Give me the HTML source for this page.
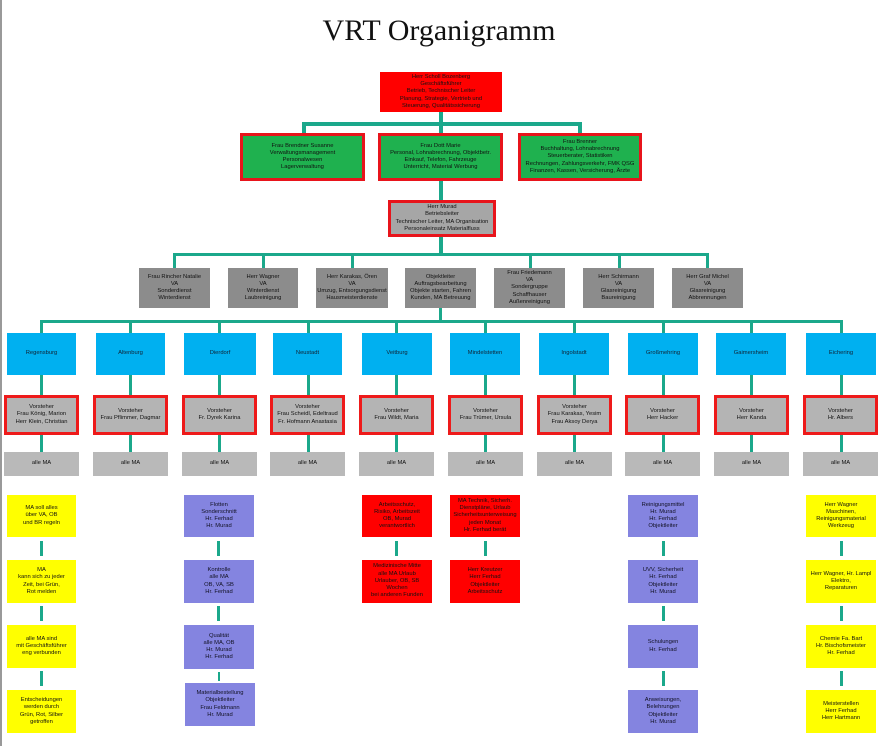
<!DOCTYPE html>
<html><head><meta charset="utf-8"><style>
html,body{margin:0;padding:0;background:#fff;}
body{width:878px;height:746px;position:relative;overflow:hidden;font-family:"Liberation Sans",sans-serif;}
.b{position:absolute;box-sizing:border-box;display:flex;align-items:center;justify-content:center;text-align:center;font-size:5.8px;line-height:1.25;color:#111;overflow:hidden;}
.r{background:#f00;}
.g{background:#1fb14f;border:3px solid #e8141b;}
.gr{background:#8c8c8c;}
.gm{background:#a6a6a6;border:3px solid #e8141b;}
.bl{background:#00b0f0;color:#123;}
.vs{background:#b4b4b4;border:3px solid #ee1a1a;}
.am{background:#b9b9b9;}
.y{background:#ffff00;}
.p{background:#8484e0;color:#112;}
.l{position:absolute;background:#1ba88b;}
</style></head><body>
<div style="position:absolute;left:0;top:0;width:2px;height:746px;background:#999"></div>
<div style="position:absolute;left:0;top:14px;width:878px;text-align:center;font-family:'Liberation Serif',serif;font-size:30px;color:#111;">VRT Organigramm</div>

<!-- top -->
<div class="b r" style="left:380px;top:72px;width:122px;height:40px;">Herr Scholl Bozenberg<br>Geschäftsführer<br>Betrieb, Technischer Leiter<br>Planung, Strategie, Vertrieb und<br>Steuerung, Qualitätssicherung</div>
<div class="l" style="left:439px;top:112px;width:4px;height:22px"></div>
<div class="l" style="left:302px;top:122px;width:280px;height:4px"></div>
<div class="l" style="left:302px;top:122px;width:4px;height:12px"></div>
<div class="l" style="left:578px;top:122px;width:4px;height:12px"></div>

<div class="b g" style="left:240px;top:133px;width:125px;height:48px;">Frau Brendner Susanne<br>Verwaltungsmanagement<br>Personalwesen<br>Lagerverwaltung</div>
<div class="b g" style="left:378px;top:133px;width:125px;height:48px;">Frau Dott Marie<br>Personal, Lohnabrechnung, Objektbetr.<br>Einkauf, Telefon, Fahrzeuge<br>Unterricht, Material Werbung</div>
<div class="b g" style="left:518px;top:133px;width:124px;height:48px;">Frau Brenner<br>Buchhaltung, Lohnabrechnung<br>Steuerberater, Statistiken<br>Rechnungen, Zahlungsverkehr, FMK QSG<br>Finanzen, Kassen, Versicherung, Ärzte</div>
<div class="l" style="left:439px;top:181px;width:4px;height:20px"></div>
<div class="b gm" style="left:388px;top:200px;width:108px;height:37px;">Herr Murad<br>Betriebsleiter<br>Technischer Leiter, MA Organisation<br>Personaleinsatz Materialfluss</div>
<div class="l" style="left:439px;top:237px;width:4px;height:18px"></div>

<!-- second line -->
<div class="l" style="left:173px;top:253px;width:536px;height:3px"></div>
<div class="l" style="left:173px;top:253px;width:3px;height:15px"></div>
<div class="l" style="left:262px;top:253px;width:3px;height:15px"></div>
<div class="l" style="left:351px;top:253px;width:3px;height:15px"></div>
<div class="l" style="left:529px;top:253px;width:3px;height:15px"></div>
<div class="l" style="left:618px;top:253px;width:3px;height:15px"></div>
<div class="l" style="left:706px;top:253px;width:3px;height:15px"></div>

<div class="b gr" style="left:139px;top:268px;width:71px;height:40px;">Frau Rincher Natalie<br>VA<br>Sonderdienst<br>Winterdienst</div>
<div class="b gr" style="left:228px;top:268px;width:70px;height:40px;">Herr Wagner<br>VA<br>Winterdienst<br>Laubreinigung</div>
<div class="b gr" style="left:316px;top:268px;width:72px;height:40px;">Herr Karakas, Ören<br>VA<br>Umzug, Entsorgungsdienst<br>Hausmeisterdienste</div>
<div class="b gr" style="left:405px;top:268px;width:71px;height:40px;">Objektleiter<br>Auftragsbearbeitung<br>Objekte starten, Fahren<br>Kunden, MA Betreuung</div>
<div class="b gr" style="left:494px;top:268px;width:71px;height:40px;">Frau Friedemann<br>VA<br>Sondergruppe<br>Schaffhauser<br>Außenreinigung</div>
<div class="b gr" style="left:583px;top:268px;width:71px;height:40px;">Herr Schirmann<br>VA<br>Glasreinigung<br>Baureinigung</div>
<div class="b gr" style="left:672px;top:268px;width:71px;height:40px;">Herr Graf Michel<br>VA<br>Glasreinigung<br>Abbrennungen</div>
<div class="l" style="left:439px;top:308px;width:3px;height:13px"></div>

<!-- third line -->
<div class="l" style="left:40px;top:320px;width:803px;height:3px"></div>

<div class="b bl" style="left:7px;top:333px;width:69px;height:42px;">Regensburg</div>
<div class="b bl" style="left:96px;top:333px;width:69px;height:42px;">Altenburg</div>
<div class="b bl" style="left:184px;top:333px;width:72px;height:42px;">Dierdorf</div>
<div class="b bl" style="left:273px;top:333px;width:69px;height:42px;">Neustadt</div>
<div class="b bl" style="left:362px;top:333px;width:70px;height:42px;">Veitburg</div>
<div class="b bl" style="left:450px;top:333px;width:70px;height:42px;">Mindelstetten</div>
<div class="b bl" style="left:539px;top:333px;width:70px;height:42px;">Ingolstadt</div>
<div class="b bl" style="left:628px;top:333px;width:70px;height:42px;">Großmehring</div>
<div class="b bl" style="left:716px;top:333px;width:70px;height:42px;">Gaimersheim</div>
<div class="b bl" style="left:806px;top:333px;width:70px;height:42px;">Eichering</div>

<div class="b vs" style="left:4px;top:395px;width:75px;height:40px;">Vorsteher<br>Frau König, Marion<br>Herr Klein, Christian</div>
<div class="b vs" style="left:93px;top:395px;width:75px;height:40px;">Vorsteher<br>Frau Pflimmer, Dagmar</div>
<div class="b vs" style="left:182px;top:395px;width:75px;height:40px;">Vorsteher<br>Fr. Dyrek Karina</div>
<div class="b vs" style="left:270px;top:395px;width:75px;height:40px;">Vorsteher<br>Frau Scheidl, Edeltraud<br>Fr. Hofmann Anastasia</div>
<div class="b vs" style="left:359px;top:395px;width:75px;height:40px;">Vorsteher<br>Frau Wildt, Maria</div>
<div class="b vs" style="left:448px;top:395px;width:75px;height:40px;">Vorsteher<br>Frau Trümer, Ursula</div>
<div class="b vs" style="left:537px;top:395px;width:75px;height:40px;">Vorsteher<br>Frau Karakas, Yesim<br>Frau Aksoy Derya</div>
<div class="b vs" style="left:625px;top:395px;width:75px;height:40px;">Vorsteher<br>Herr Hacker</div>
<div class="b vs" style="left:714px;top:395px;width:75px;height:40px;">Vorsteher<br>Herr Kanda</div>
<div class="b vs" style="left:803px;top:395px;width:75px;height:40px;">Vorsteher<br>Hr. Albers</div>

<div class="b am" style="left:4px;top:452px;width:75px;height:24px;">alle MA</div>
<div class="b am" style="left:93px;top:452px;width:75px;height:24px;">alle MA</div>
<div class="b am" style="left:182px;top:452px;width:75px;height:24px;">alle MA</div>
<div class="b am" style="left:270px;top:452px;width:75px;height:24px;">alle MA</div>
<div class="b am" style="left:359px;top:452px;width:75px;height:24px;">alle MA</div>
<div class="b am" style="left:448px;top:452px;width:75px;height:24px;">alle MA</div>
<div class="b am" style="left:537px;top:452px;width:75px;height:24px;">alle MA</div>
<div class="b am" style="left:625px;top:452px;width:75px;height:24px;">alle MA</div>
<div class="b am" style="left:714px;top:452px;width:75px;height:24px;">alle MA</div>
<div class="b am" style="left:803px;top:452px;width:75px;height:24px;">alle MA</div>

<!-- vertical connectors per column -->
<div class="l" style="left:40px;top:320px;width:3px;height:13px"></div><div class="l" style="left:40px;top:375px;width:3px;height:20px"></div><div class="l" style="left:40px;top:435px;width:3px;height:17px"></div>
<div class="l" style="left:129px;top:320px;width:3px;height:13px"></div><div class="l" style="left:129px;top:375px;width:3px;height:20px"></div><div class="l" style="left:129px;top:435px;width:3px;height:17px"></div>
<div class="l" style="left:218px;top:320px;width:3px;height:13px"></div><div class="l" style="left:218px;top:375px;width:3px;height:20px"></div><div class="l" style="left:218px;top:435px;width:3px;height:17px"></div>
<div class="l" style="left:307px;top:320px;width:3px;height:13px"></div><div class="l" style="left:307px;top:375px;width:3px;height:20px"></div><div class="l" style="left:307px;top:435px;width:3px;height:17px"></div>
<div class="l" style="left:395px;top:320px;width:3px;height:13px"></div><div class="l" style="left:395px;top:375px;width:3px;height:20px"></div><div class="l" style="left:395px;top:435px;width:3px;height:17px"></div>
<div class="l" style="left:484px;top:320px;width:3px;height:13px"></div><div class="l" style="left:484px;top:375px;width:3px;height:20px"></div><div class="l" style="left:484px;top:435px;width:3px;height:17px"></div>
<div class="l" style="left:573px;top:320px;width:3px;height:13px"></div><div class="l" style="left:573px;top:375px;width:3px;height:20px"></div><div class="l" style="left:573px;top:435px;width:3px;height:17px"></div>
<div class="l" style="left:662px;top:320px;width:3px;height:13px"></div><div class="l" style="left:662px;top:375px;width:3px;height:20px"></div><div class="l" style="left:662px;top:435px;width:3px;height:17px"></div>
<div class="l" style="left:750px;top:320px;width:3px;height:13px"></div><div class="l" style="left:750px;top:375px;width:3px;height:20px"></div><div class="l" style="left:750px;top:435px;width:3px;height:17px"></div>
<div class="l" style="left:840px;top:320px;width:3px;height:13px"></div><div class="l" style="left:840px;top:375px;width:3px;height:20px"></div><div class="l" style="left:840px;top:435px;width:3px;height:17px"></div>

<!-- column 1 yellow -->
<div class="b y" style="left:7px;top:495px;width:69px;height:42px;">MA soll alles<br>über VA, OB<br>und BR regeln</div>
<div class="l" style="left:40px;top:541px;width:3px;height:15px"></div>
<div class="b y" style="left:7px;top:560px;width:69px;height:43px;">MA<br>kann sich zu jeder<br>Zeit, bei Grün,<br>Rot melden</div>
<div class="l" style="left:40px;top:606px;width:3px;height:15px"></div>
<div class="b y" style="left:7px;top:625px;width:69px;height:43px;">alle MA sind<br>mit Geschäftsführer<br>eng verbunden</div>
<div class="l" style="left:40px;top:671px;width:3px;height:15px"></div>
<div class="b y" style="left:7px;top:690px;width:69px;height:43px;">Entscheidungen<br>werden durch<br>Grün, Rot, Silber<br>getroffen</div>

<!-- column 3 purple -->
<div class="b p" style="left:184px;top:495px;width:70px;height:42px;">Flotten<br>Sonderschnitt<br>Hr. Ferhad<br>Hr. Murad</div>
<div class="l" style="left:217px;top:541px;width:3px;height:15px"></div>
<div class="b p" style="left:184px;top:560px;width:70px;height:43px;">Kontrolle<br>alle MA<br>OB, VA, SB<br>Hr. Ferhad</div>
<div class="l" style="left:217px;top:606px;width:3px;height:15px"></div>
<div class="b p" style="left:184px;top:625px;width:70px;height:44px;">Qualität<br>alle MA, OB<br>Hr. Murad<br>Hr. Ferhad</div>
<div class="l" style="left:218px;top:672px;width:2px;height:9px"></div>
<div class="b p" style="left:185px;top:683px;width:70px;height:43px;">Materialbestellung<br>Objektleiter<br>Frau Feldmann<br>Hr. Murad</div>

<!-- column 5 red -->
<div class="b r" style="left:362px;top:495px;width:70px;height:42px;">Arbeitsschutz,<br>Risiko, Arbeitszeit<br>OB, Murad<br>verantwortlich</div>
<div class="l" style="left:395px;top:541px;width:3px;height:15px"></div>
<div class="b r" style="left:362px;top:560px;width:70px;height:43px;">Medizinische Mitte<br>alle MA Urlaub<br>Urlauber, OB, SB<br>Wochen<br>bei anderen Funden</div>

<!-- column 6 red -->
<div class="b r" style="left:450px;top:495px;width:70px;height:42px;">MA Technik, Sicherh.<br>Dienstpläne, Urlaub<br>Sicherheitsunterweisung<br>jeden Monat<br>Hr. Ferhad berät</div>
<div class="l" style="left:484px;top:541px;width:3px;height:15px"></div>
<div class="b r" style="left:450px;top:560px;width:70px;height:43px;">Herr Kreutzer<br>Herr Ferhad<br>Objektleiter<br>Arbeitsschutz</div>

<!-- column 8 purple -->
<div class="b p" style="left:628px;top:495px;width:70px;height:42px;">Reinigungsmittel<br>Hr. Murad<br>Hr. Ferhad<br>Objektleiter</div>
<div class="l" style="left:662px;top:541px;width:3px;height:15px"></div>
<div class="b p" style="left:628px;top:560px;width:70px;height:43px;">UVV, Sicherheit<br>Hr. Ferhad<br>Objektleiter<br>Hr. Murad</div>
<div class="l" style="left:662px;top:606px;width:3px;height:15px"></div>
<div class="b p" style="left:628px;top:625px;width:70px;height:43px;">Schulungen<br>Hr. Ferhad</div>
<div class="l" style="left:662px;top:671px;width:3px;height:15px"></div>
<div class="b p" style="left:628px;top:690px;width:70px;height:43px;">Anweisungen,<br>Belehrungen<br>Objektleiter<br>Hr. Murad</div>

<!-- column 10 yellow -->
<div class="b y" style="left:806px;top:495px;width:70px;height:42px;">Herr Wagner<br>Maschinen,<br>Reinigungsmaterial<br>Werkzeug</div>
<div class="l" style="left:840px;top:541px;width:3px;height:15px"></div>
<div class="b y" style="left:806px;top:560px;width:70px;height:43px;">Herr Wagner, Hr. Lampl<br>Elektro,<br>Reparaturen</div>
<div class="l" style="left:840px;top:606px;width:3px;height:15px"></div>
<div class="b y" style="left:806px;top:625px;width:70px;height:43px;">Chemie Fa. Bart<br>Hr. Bischofsmeister<br>Hr. Ferhad</div>
<div class="l" style="left:840px;top:671px;width:3px;height:15px"></div>
<div class="b y" style="left:806px;top:690px;width:70px;height:43px;">Meisterstellen<br>Herr Ferhad<br>Herr Hartmann</div>
</body></html>
